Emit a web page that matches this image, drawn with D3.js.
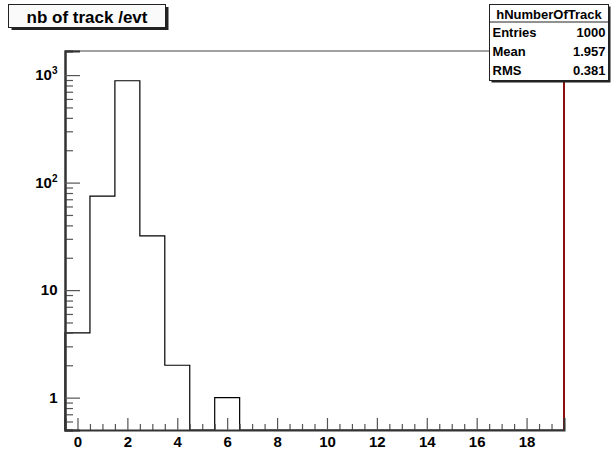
<!DOCTYPE html>
<html>
<head>
<meta charset="utf-8">
<script src="https://cdn.jsdelivr.net/npm/d3@7"></script>
<style>
  body { margin: 0; background: #fff; }
  text { font-family: "Liberation Sans", Arial, sans-serif; font-weight: bold; }
</style>
</head>
<body>
<div id="graph"></div>
<script>
// contenu des bins (largeur 1, centrés sur les entiers 0..19)
var binCenters = [0, 1, 2, 3, 4, 5, 6, 7, 8, 9, 10, 11, 12, 13, 14, 15, 16, 17, 18, 19];
var binCounts  = [4, 75, 886, 32, 2, 0, 1, 0, 0, 0, 0, 0, 0, 0, 0, 0, 0, 0, 0, 0];

var xMajorTicks = [0, 2, 4, 6, 8, 10, 12, 14, 16, 18];
var yMajorTicks = [1, 10, 100, 1000];
var yTickBases = ["1", "10", "10", "10"];
var yTickExps  = ["", "", "2", "3"];

var histTitle = "nb of track /evt";
var statTitle = "hNumberOfTrack";
var statNames  = ["Entries", "Mean", "RMS"];
var statValues = ["1000", "1.957", "0.381"];

var totalWidth = 613, totalHeight = 451,
    frame = {left: 65, right: 564, top: 51, bottom: 430};

var x = d3.scaleLinear()
    .domain([-0.5, 19.5])
    .range([frame.left, frame.right]);
var y = d3.scaleLog()
    .domain([0.5, 1675])
    .range([frame.bottom, frame.top]);

var svg = d3.select("#graph").append("svg")
    .attr("width", totalWidth)
    .attr("height", totalHeight);

// cadre (haut)
svg.append("line")
    .attr("x1", frame.left).attr("x2", frame.right)
    .attr("y1", frame.top).attr("y2", frame.top)
    .attr("stroke", "#444").attr("stroke-width", 1.2);

// histogramme
var pts = [{x: -0.5, v: y.domain()[0]}];
binCenters.forEach(function(c, i) {
    pts.push({x: c - 0.5, v: Math.max(binCounts[i], y.domain()[0])});
});
pts.push({x: 19.5, v: Math.max(binCounts[binCounts.length - 1], y.domain()[0])});
var ligne = d3.line()
    .x(function(d) { return x(d.x); })
    .y(function(d) { return y(d.v); })
    .curve(d3.curveStepAfter);
svg.append("path")
    .datum(pts)
    .attr("fill", "none")
    .attr("stroke", "#000")
    .attr("stroke-width", 1.2)
    .attr("d", ligne);

// bord droit rouge
svg.append("line")
    .attr("x1", frame.right).attr("x2", frame.right)
    .attr("y1", frame.top).attr("y2", frame.bottom)
    .attr("stroke", "#8a1010").attr("stroke-width", 2);

// axe x : graduations
var xMinor = d3.range(-0.5, 19.5001, 0.5).filter(function(v) { return xMajorTicks.indexOf(v) < 0; });
var gxMinor = svg.append("g")
    .attr("transform", "translate(0," + frame.bottom + ")")
    .call(d3.axisBottom(x).tickValues(xMinor).tickSize(-6).tickFormat(""));
var gx = svg.append("g")
    .attr("transform", "translate(0," + frame.bottom + ")")
    .call(d3.axisBottom(x).tickValues(xMajorTicks).tickSize(-12).tickPadding(6));
gx.selectAll("text").attr("font-size", 15).attr("fill", "#000")
    .style("font-family", "'Liberation Sans', Arial, sans-serif").style("font-weight", "bold");

// axe y : graduations
var yMinor = [];
[0.1, 1, 10, 100, 1000].forEach(function(dec) {
    for (var k = 2; k <= 9; k++) {
        var v = dec * k;
        if (v >= 0.5 && v <= 1675) yMinor.push(v);
    }
});
svg.append("g")
    .attr("transform", "translate(" + frame.left + ",0)")
    .call(d3.axisLeft(y).tickValues(yMinor).tickSize(-8).tickFormat(""));
var gy = svg.append("g")
    .attr("transform", "translate(" + frame.left + ",0)")
    .call(d3.axisLeft(y).tickValues(yMajorTicks).tickSize(-15).tickFormat(""));
gy.selectAll(".tick").each(function(d, i) {
    var t = d3.select(this).append("text")
        .attr("x", -7.5).attr("dy", "0.32em")
        .attr("text-anchor", "end").attr("fill", "#000")
        .attr("font-size", 15)
        .style("font-family", "'Liberation Sans', Arial, sans-serif").style("font-weight", "bold");
    t.append("tspan").text(yTickBases[i]);
    if (yTickExps[i]) {
        t.append("tspan").attr("font-size", 10).attr("dy", "-0.6em").text(yTickExps[i]);
    }
});

// style des axes
svg.selectAll(".tick line").attr("stroke", "#555").attr("stroke-width", 1.2);
svg.selectAll(".domain").attr("stroke", "#333").attr("stroke-width", 2);
gxMinor.select(".domain").remove();

// boîte du titre
svg.append("rect").attr("x", 11.5).attr("y", 7).attr("width", 157).attr("height", 23).attr("fill", "#222");
svg.append("rect").attr("x", 8.5).attr("y", 4.5).attr("width", 157).attr("height", 23)
    .attr("fill", "#fafafa").attr("stroke", "#222").attr("stroke-width", 1);
svg.append("text")
    .attr("x", 87).attr("y", 23)
    .attr("text-anchor", "middle").attr("font-size", 17)
    .text(histTitle);

// boîte des statistiques
var sb = {x: 489.5, y: 4.5, w: 119, h: 76};
svg.append("rect").attr("x", sb.x + 2).attr("y", sb.y + 2).attr("width", sb.w).attr("height", sb.h).attr("fill", "#222");
svg.append("rect").attr("x", sb.x).attr("y", sb.y).attr("width", sb.w).attr("height", sb.h)
    .attr("fill", "#fff").attr("stroke", "#222").attr("stroke-width", 1);
svg.append("line")
    .attr("x1", sb.x).attr("x2", sb.x + sb.w)
    .attr("y1", sb.y + 17.5).attr("y2", sb.y + 17.5)
    .attr("stroke", "#222");
svg.append("text")
    .attr("x", sb.x + sb.w / 2).attr("y", sb.y + 14.5)
    .attr("text-anchor", "middle").attr("font-size", 13)
    .text(statTitle);
statNames.forEach(function(n, i) {
    svg.append("text")
        .attr("x", sb.x + 3).attr("y", sb.y + 32.5 + i * 19)
        .attr("font-size", 13)
        .text(n);
    svg.append("text")
        .attr("x", sb.x + sb.w - 3).attr("y", sb.y + 32.5 + i * 19)
        .attr("text-anchor", "end").attr("font-size", 13)
        .text(statValues[i]);
});
</script>
</body>
</html>
